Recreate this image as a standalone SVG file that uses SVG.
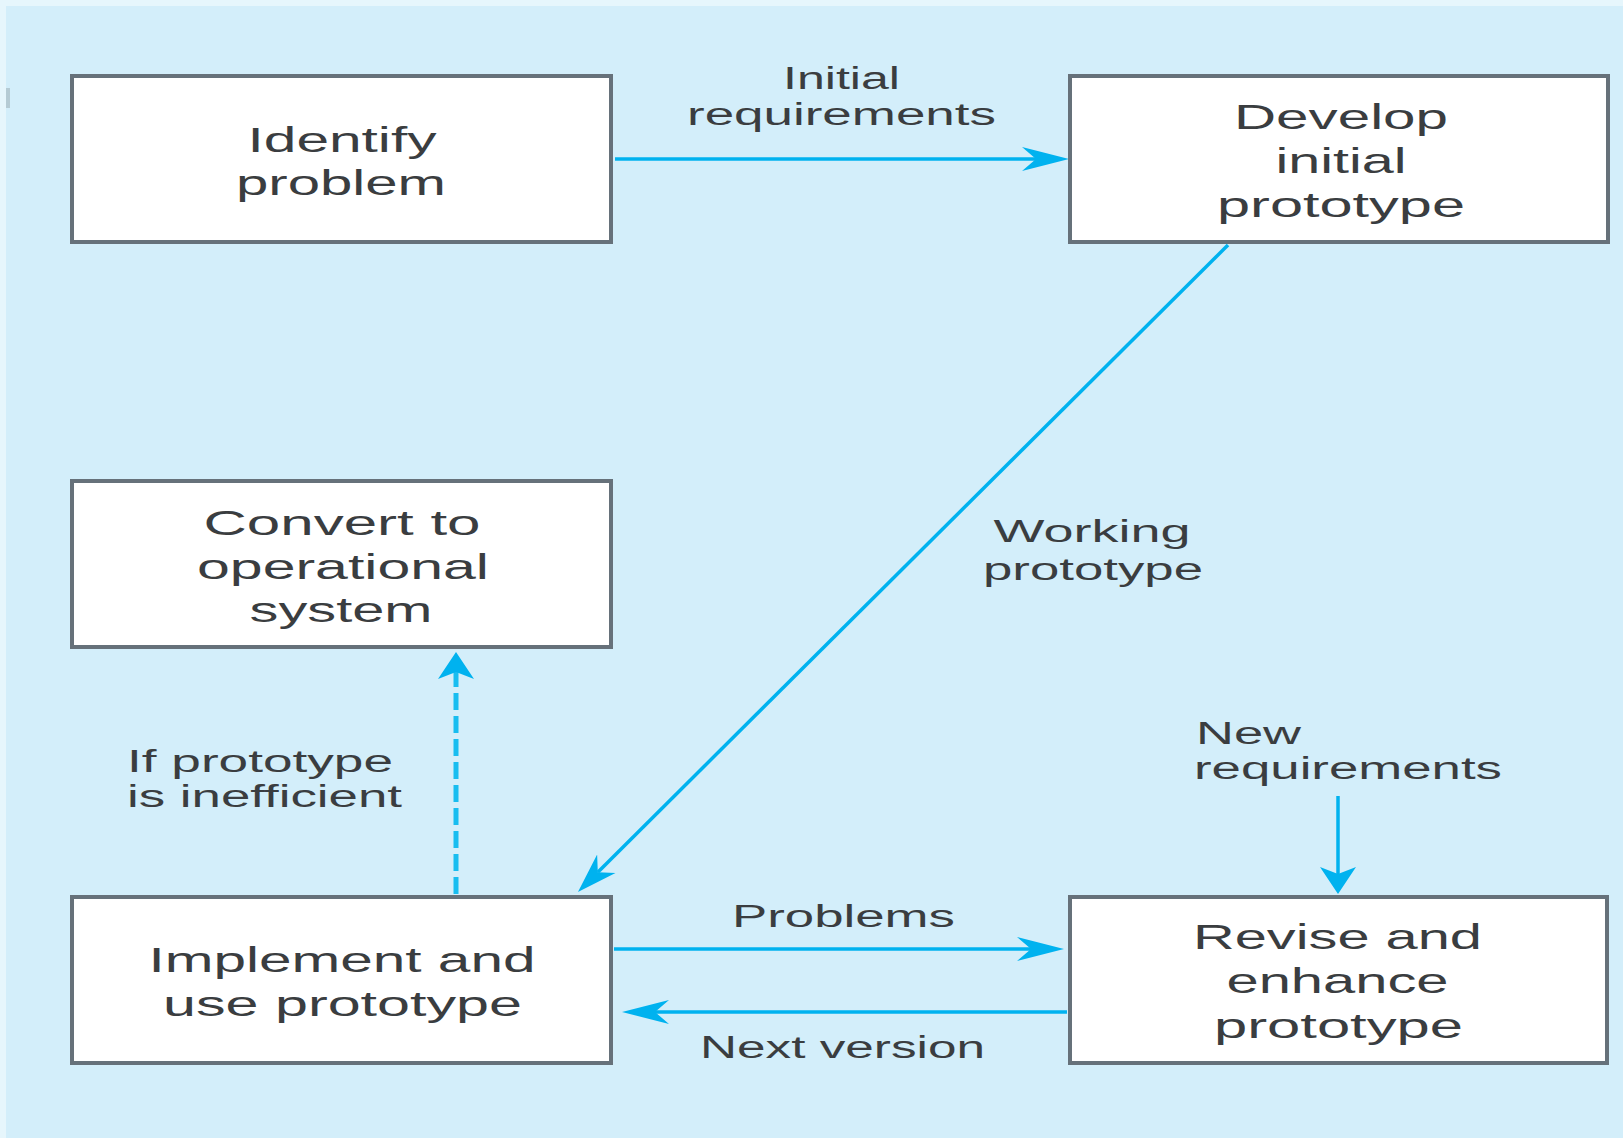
<svg xmlns="http://www.w3.org/2000/svg" width="1623" height="1138" viewBox="0 0 1623 1138">
  <style>
    .box { fill: #ffffff; stroke: #66717a; stroke-width: 4; }
    .t { font-family: "Liberation Sans", Arial, sans-serif; fill: #3a3d40; }
    .bt { font-size: 35px; text-anchor: middle; }
    .lb { font-size: 31px; }
    .mid { text-anchor: middle; }
    .flow { stroke: #00b2ef; stroke-width: 3.5; fill: none; }
    .dash { stroke: #18bdf0; stroke-width: 5; fill: none; stroke-dasharray: 17 6; }
  </style>
  <defs>
    <marker id="headH" markerUnits="userSpaceOnUse" viewBox="0 -15 50 30" markerWidth="50" markerHeight="30" refX="14" refY="0" orient="auto">
      <path d="M0,-12 L47,0 L0,12 L14,0 Z" fill="#00b2ef"/>
    </marker>
    <marker id="headD" markerUnits="userSpaceOnUse" viewBox="0 -16 44 32" markerWidth="44" markerHeight="32" refX="12" refY="0" orient="auto">
      <path d="M0,-13 L40,0 L0,13 L12,0 Z" fill="#00b2ef"/>
    </marker>
    <marker id="headV" markerUnits="userSpaceOnUse" viewBox="0 -20 30 40" markerWidth="30" markerHeight="40" refX="7" refY="0" orient="auto">
      <path d="M0,-18 L27,0 L0,18 L7,0 Z" fill="#00b2ef"/>
    </marker>
  </defs>

  <!-- backdrop -->
  <rect x="0" y="0" width="1623" height="1138" fill="#e6f6fc"/>
  <rect x="6" y="6" width="1617" height="1132" fill="#d3eefa"/>
  <rect x="6" y="88" width="4" height="20" fill="#b5cbd4"/>

  <!-- connectors -->
  <g id="connectors">
    <line class="flow" x1="615" y1="159" x2="1036" y2="159" marker-end="url(#headH)"/>
    <line class="flow" x1="1228" y1="245" x2="597.8" y2="872.2" marker-end="url(#headD)"/>
    <line class="flow" x1="614" y1="949" x2="1031" y2="949" marker-end="url(#headH)"/>
    <line class="flow" x1="1067" y1="1012" x2="655" y2="1012" marker-end="url(#headH)"/>
    <line class="flow" x1="1338" y1="796" x2="1338" y2="874" marker-end="url(#headV)"/>
    <line class="dash" x1="456" y1="894" x2="456" y2="672" marker-end="url(#headV)"/>

    <text class="t lb mid" x="841.5" y="89" textLength="117" lengthAdjust="spacingAndGlyphs">Initial</text>
    <text class="t lb mid" x="841.5" y="125" textLength="309" lengthAdjust="spacingAndGlyphs">requirements</text>
    <text class="t lb mid" x="1092" y="542" textLength="197" lengthAdjust="spacingAndGlyphs">Working</text>
    <text class="t lb mid" x="1093" y="580" textLength="220" lengthAdjust="spacingAndGlyphs">prototype</text>
    <text class="t lb" x="1196" y="744" textLength="105" lengthAdjust="spacingAndGlyphs">New</text>
    <text class="t lb" x="1194" y="779" textLength="308" lengthAdjust="spacingAndGlyphs">requirements</text>
    <text class="t lb" x="127" y="772" textLength="266" lengthAdjust="spacingAndGlyphs">If prototype</text>
    <text class="t lb" x="127" y="807" textLength="275" lengthAdjust="spacingAndGlyphs">is inefficient</text>
    <text class="t lb mid" x="843.5" y="927" textLength="223" lengthAdjust="spacingAndGlyphs">Problems</text>
    <text class="t lb mid" x="842.5" y="1058" textLength="285" lengthAdjust="spacingAndGlyphs">Next version</text>
  </g>

  <!-- process steps -->
  <g id="identify-problem">
    <rect class="box" x="72" y="76" width="539" height="166"/>
    <text class="t bt" x="342" y="152" textLength="189" lengthAdjust="spacingAndGlyphs">Identify</text>
    <text class="t bt" x="341" y="195" textLength="210" lengthAdjust="spacingAndGlyphs">problem</text>
  </g>

  <g id="develop-initial-prototype">
    <rect class="box" x="1070" y="76" width="538" height="166"/>
    <text class="t bt" x="1341" y="129" textLength="214" lengthAdjust="spacingAndGlyphs">Develop</text>
    <text class="t bt" x="1341" y="173" textLength="131" lengthAdjust="spacingAndGlyphs">initial</text>
    <text class="t bt" x="1341" y="217" textLength="248" lengthAdjust="spacingAndGlyphs">prototype</text>
  </g>

  <g id="convert-to-operational-system">
    <rect class="box" x="72" y="481" width="539" height="166"/>
    <text class="t bt" x="342" y="535" textLength="277" lengthAdjust="spacingAndGlyphs">Convert to</text>
    <text class="t bt" x="343" y="579" textLength="292" lengthAdjust="spacingAndGlyphs">operational</text>
    <text class="t bt" x="341" y="622" textLength="183" lengthAdjust="spacingAndGlyphs">system</text>
  </g>

  <g id="implement-and-use-prototype">
    <rect class="box" x="72" y="897" width="539" height="166"/>
    <text class="t bt" x="342" y="972" textLength="387" lengthAdjust="spacingAndGlyphs">Implement and</text>
    <text class="t bt" x="342.5" y="1016" textLength="359" lengthAdjust="spacingAndGlyphs">use prototype</text>
  </g>

  <g id="revise-and-enhance-prototype">
    <rect class="box" x="1070" y="897" width="537" height="166"/>
    <text class="t bt" x="1337.5" y="949" textLength="289" lengthAdjust="spacingAndGlyphs">Revise and</text>
    <text class="t bt" x="1337.5" y="993" textLength="222" lengthAdjust="spacingAndGlyphs">enhance</text>
    <text class="t bt" x="1338.5" y="1038" textLength="249" lengthAdjust="spacingAndGlyphs">prototype</text>
  </g>
</svg>
